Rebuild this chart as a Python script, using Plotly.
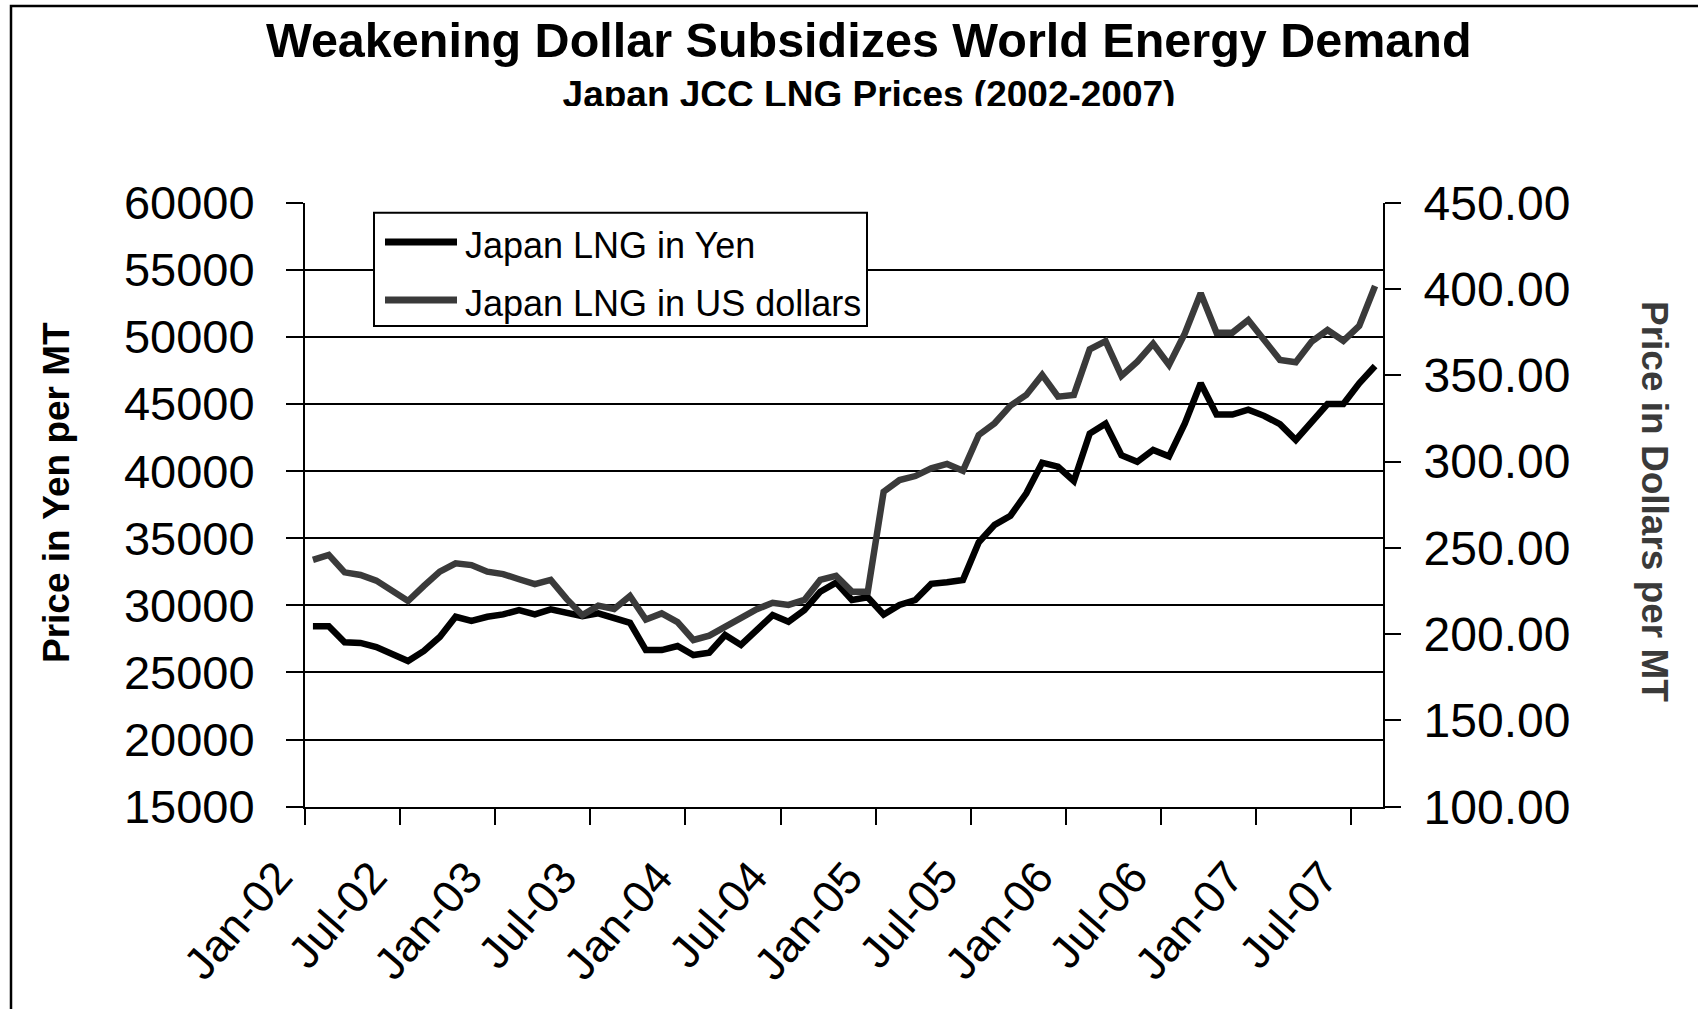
import plotly.graph_objects as go

# ---------------------------------------------------------------- data
year_codes = ["02", "03", "04", "05", "06", "07"]
month_names = ["Jan", "Feb", "Mar", "Apr", "May", "Jun",
               "Jul", "Aug", "Sep", "Oct", "Nov", "Dec"]
# monthly categories Jan-02 .. Aug-07
months = [f"{m}-{y}" for y in year_codes for m in month_names][:68]

# Japan LNG price, yen per metric tonne
yen_prices = [
    28450, 28450, 27250, 27200, 26900, 26350, 25850, 26600, 27650, 29150,
    28850, 29150, 29330, 29650, 29330, 29700, 29450, 29200, 29400, 29080,
    28700, 26670, 26670, 26970, 26300, 26470, 27790, 27050, 28165, 29280,
    28780, 29650, 31020, 31690, 30400, 30600, 29320, 30030, 30400, 31600,
    31720, 31890, 34700, 36000, 36680, 38350, 40630, 40330, 39270, 42800,
    43540, 41180, 40700, 41580, 41100, 43560, 46550, 44220, 44220, 44580,
    44120, 43500, 42320, 43680, 45000, 45000, 46550, 47830,
]

# Japan LNG price, US dollars per metric tonne
usd_prices = [
    243.0, 245.9, 235.8, 234.3, 231.0, 225.6, 219.2, 228.0, 236.2, 241.0,
    240.0, 236.2, 234.8, 231.8, 229.0, 231.4, 220.4, 211.0, 216.5, 214.6,
    222.1, 208.5, 212.0, 207.0, 196.6, 199.1, 204.3, 210.1, 214.4, 218.2,
    216.9, 219.8, 231.4, 233.7, 224.6, 224.6, 282.5, 289.3, 291.6, 296.1,
    298.6, 294.7, 315.4, 322.2, 332.4, 338.6, 350.2, 337.6, 338.6, 365.0,
    369.8, 349.6, 357.9, 368.3, 356.0, 374.3, 397.5, 374.7, 374.7, 382.0,
    370.4, 358.9, 357.5, 369.5, 376.2, 370.0, 378.6, 401.7,
]

tick_labels = ["Jan-02", "Jul-02", "Jan-03", "Jul-03", "Jan-04", "Jul-04",
               "Jan-05", "Jul-05", "Jan-06", "Jul-06", "Jan-07", "Jul-07"]

yen_range = [15000, 60000]
usd_range = [100, 450]

title_text = "Weakening Dollar Subsidizes World Energy Demand"
subtitle_text = "Japan JCC LNG Prices (2002-2007)"
yen_title = "Price in Yen per MT"
usd_title = "Price in Dollars per MT"
yen_name = "Japan LNG in Yen"
usd_name = "Japan LNG in US dollars"

# ---------------------------------------------------------------- layout geometry (pixels)
W, H = 1698, 1009
PLOT_L, PLOT_R, PLOT_T, PLOT_B = 305, 1383, 202.7, 806.7
FONT = "Liberation Sans, Arial, sans-serif"
USD_COLOR = "#3a3a3a"
TITLE_CX = 869


def fx(px):
    return px / W


def fy(py):
    return 1 - py / H


idx = list(range(len(months)))

fig = go.Figure()

fig.add_trace(go.Scatter(
    x=idx, y=yen_prices, customdata=months, name=yen_name,
    mode="lines", line=dict(color="#000000", width=6.5),
    xaxis="x", yaxis="y", showlegend=False,
    hovertemplate="%{customdata}: %{y:,.0f} yen<extra></extra>",
))
fig.add_trace(go.Scatter(
    x=idx, y=usd_prices, customdata=months, name=usd_name,
    mode="lines", line=dict(color=USD_COLOR, width=6.5),
    xaxis="x", yaxis="y2", showlegend=False,
    hovertemplate="%{customdata}: $%{y:.2f}<extra></extra>",
))

# subtitle lives in its own small clipped panel, so its lower edge is cut
fig.add_trace(go.Scatter(
    x=[0.5], y=[0.17], mode="text", text=[subtitle_text],
    textfont=dict(family=FONT, size=37, color="#000000", weight="bold"),
    textposition="middle center", cliponaxis=True,
    xaxis="x3", yaxis="y3", showlegend=False, hoverinfo="skip",
))

axis_common = dict(showgrid=False, zeroline=False, fixedrange=True,
                   automargin=False)

fig.update_layout(
    width=W, height=H, autosize=False,
    margin=dict(l=0, r=0, t=0, b=0, pad=0, autoexpand=False),
    paper_bgcolor="#ffffff", plot_bgcolor="#ffffff",
    font=dict(family=FONT, color="#000000"),
    hovermode="closest",
    xaxis=dict(
        **axis_common,
        domain=[fx(PLOT_L), fx(PLOT_R)],
        range=[-0.5, len(months) - 0.5],
        tickmode="array",
        tickvals=[months.index(t) - 0.5 for t in tick_labels],
        ticks="outside", ticklen=16, tickwidth=2, tickcolor="#000000",
        showticklabels=False,
        showline=True, linecolor="#000000", linewidth=2,
        anchor="y",
    ),
    yaxis=dict(
        zeroline=False, fixedrange=True, automargin=False,
        domain=[fy(PLOT_B), fy(PLOT_T)],
        range=yen_range, tickmode="linear", tick0=15000, dtick=5000,
        tickformat="d",
        showgrid=True, gridcolor="#000000", gridwidth=1.5,
        ticks="outside", ticklen=17, tickwidth=2, tickcolor="#000000",
        tickfont=dict(family=FONT, size=47, color="#000000"),
        ticklabelstandoff=22,
        showline=True, linecolor="#000000", linewidth=2,
        anchor="x",
    ),
    yaxis2=dict(
        **axis_common,
        overlaying="y", side="right", anchor="x",
        range=usd_range, tickmode="linear", tick0=100, dtick=50,
        tickformat=".2f",
        ticks="outside", ticklen=16, tickwidth=2, tickcolor="#000000",
        tickfont=dict(family=FONT, size=48, color="#000000"),
        ticklabelstandoff=13,
        showline=True, linecolor="#000000", linewidth=2,
    ),
    # inner half of the crossing tick marks on the dollar axis
    yaxis4=dict(
        **axis_common,
        overlaying="y", side="right", anchor="x",
        range=usd_range, tickmode="linear", tick0=100, dtick=50,
        ticks="inside", ticklen=16, tickwidth=2, tickcolor="#000000",
        showticklabels=False, showline=False,
    ),
    xaxis3=dict(**axis_common, domain=[fx(TITLE_CX - 500), fx(TITLE_CX + 500)],
                range=[0, 1], visible=False, anchor="y3"),
    yaxis3=dict(**axis_common, domain=[fy(106), fy(60)], range=[0, 1],
                visible=False, anchor="x3"),
)

annotations = []

# chart title
annotations.append(dict(
    text=title_text, xref="paper", yref="paper",
    x=fx(TITLE_CX), y=fy(40), xanchor="center", yanchor="middle",
    showarrow=False,
    font=dict(family=FONT, size=48.5, color="#000000", weight="bold"),
))

# axis titles
annotations.append(dict(
    text=yen_title, xref="paper", yref="paper",
    x=fx(57), y=fy(493), xanchor="center", yanchor="middle",
    textangle=-90, showarrow=False,
    font=dict(family=FONT, size=37, color="#000000", weight="bold"),
))
annotations.append(dict(
    text=usd_title, xref="paper", yref="paper",
    x=fx(1655), y=fy(501), xanchor="center", yanchor="middle",
    textangle=90, showarrow=False,
    font=dict(family=FONT, size=37, color=USD_COLOR, weight="bold"),
))

# rotated month labels under the category axis
for lbl in tick_labels:
    annotations.append(dict(
        text=lbl, xref="x", yref="paper",
        x=months.index(lbl), y=fy(PLOT_B),
        xanchor="right", yanchor="top", textangle=-49,
        xshift=-8, yshift=-42, showarrow=False,
        font=dict(family=FONT, size=45, color="#000000"),
    ))

# legend box
LEG_L, LEG_R, LEG_T, LEG_B = 374, 867, 212.7, 326
legend_rows = [(yen_name, "#000000", 242), (usd_name, USD_COLOR, 300)]

shapes = [
    # outer frame
    dict(type="rect", xref="paper", yref="paper",
         x0=fx(11), x1=1.02, y0=-0.02, y1=fy(6),
         line=dict(color="#000000", width=2.5), fillcolor="rgba(0,0,0,0)",
         layer="above"),
    dict(type="rect", xref="paper", yref="paper",
         x0=fx(LEG_L), x1=fx(LEG_R), y0=fy(LEG_B), y1=fy(LEG_T),
         line=dict(color="#000000", width=2), fillcolor="#ffffff",
         layer="above"),
]
for name, color, row_y in legend_rows:
    shapes.append(dict(
        type="line", xref="paper", yref="paper",
        x0=fx(385), x1=fx(457), y0=fy(row_y), y1=fy(row_y),
        line=dict(color=color, width=7), layer="above",
    ))
    annotations.append(dict(
        text=name, xref="paper", yref="paper",
        x=fx(463), y=fy(row_y + 3), xanchor="left", yanchor="middle",
        showarrow=False,
        font=dict(family=FONT, size=36, color="#000000"),
    ))

fig.update_layout(annotations=annotations, shapes=shapes)

fig.write_html("out.html")
